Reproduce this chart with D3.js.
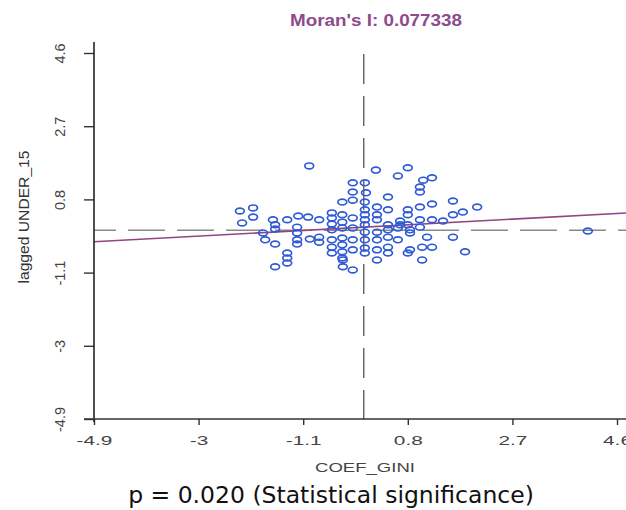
<!DOCTYPE html>
<html>
<head>
<meta charset="utf-8">
<script src="https://cdn.jsdelivr.net/npm/d3@7"></script>
<style>
  body { margin: 0; background: #fff; }
  svg { display: block; }
</style>
</head>
<body>
<svg id="chart"></svg>
<script>
var width = 626;
var height = 510;

var moranI = 0.077338;
var regIntercept = 0.08;
var meanLag = 0;
var meanX = 0;
var xTicks = [-4.9, -3, -1.1, 0.8, 2.7, 4.6];
var yTicks = [-4.9, -3, -1.1, 0.8, 2.7, 4.6];

// standardised COEF_GINI and its spatial lag of UNDER_15
var coefGini = [
  -2.25, -2.01, -2.01, -2.21, -1.83, -1.79, -1.61, -1.65, -1.61, -1.61,
  -1.39, -1.19, -1.21, -1.21, -1.21, -1.21, -1.01, -0.81, -0.98, -0.81,
  -0.81, -1.39, -1.39, -1.39, -1.61, -0.99,
  -0.20, -0.20, 0.02, 0.04, -0.20, -0.39, 0.02,
  -0.38, -0.38, -0.20,
  -0.58, -0.58, -0.58, -0.58, -0.58, -0.58, -0.58,
  -0.39, -0.39, -0.39, -0.39, -0.39, -0.39, -0.39,
  -0.20, -0.20, -0.20, -0.20,
  0.02, 0.02, 0.02, 0.02, 0.02, 0.02, 0.02, 0.02,
  0.24, 0.24, 0.24, 0.24, 0.24, 0.24, 0.24,
  0.44, 0.44, 0.44, 0.44, 0.44, 0.44,
  0.22, 0.62, 0.80, 1.02, 1.02, 1.08, 0.80, 0.80, 1.02, 1.02,
  0.62, 0.80, 1.06, 1.06, 1.15, 1.24, 1.24, 1.62, 1.62, 1.80,
  2.06, 1.44, 1.24, 1.62, 1.84, 1.24, 0.84, 4.07, 0.66, 0.84,
  0.62, 0.44, 0.66, 0.80, 1.02, 0.84
];
var laggedUnder15 = [
  0.50, 0.58, 0.34, 0.19, -0.07, -0.25, -0.36, 0.27, 0.14, 0.03,
  0.27, 0.37, 0.08, -0.07, -0.25, -0.36, 0.34, 0.27, -0.23, -0.18,
  -0.31, -0.59, -0.72, -0.85, -0.95, 1.67,
  1.23, 0.99, 1.23, 0.97, 0.78, 0.73, 0.73,
  -0.77, -0.95, -1.03,
  0.45, 0.32, 0.16, 0.01, -0.25, -0.44, -0.59,
  0.40, 0.21, 0.06, -0.20, -0.38, -0.56, -0.72,
  0.32, 0.06, -0.25, -0.51,
  0.53, 0.40, 0.27, 0.14, -0.05, -0.25, -0.46, -0.59,
  0.60, 0.40, 0.27, -0.05, -0.25, -0.51, -0.77,
  0.86, 0.53, 0.14, -0.18, -0.44, -0.59,
  1.56, 1.41, 1.62, 1.12, 0.99, 1.30, 0.53, 0.40, 0.60, 0.27,
  -0.25, -0.59, -0.77, -0.44, -0.18, 1.36, 0.68, 0.76, 0.40, 0.47,
  0.60, 0.24, 0.27, -0.18, -0.56, -0.44, -0.51, -0.02, 0.14, 0.01,
  0.06, 0.01, 0.24, 0.14, 0.08, -0.07
];

var margin = { left: 94, right: 9, top: 53, bottom: 91 };
var plotTop = 42;
var plainNum = function(d) { return String(d); };

var svg = d3.select('#chart').attr('width', width).attr('height', height);

var x = d3.scaleLinear().domain([-4.9, 4.6]).range([margin.left, width - margin.right]);
var y = d3.scaleLinear().domain([-4.9, 4.6]).range([height - margin.bottom, margin.top]);

svg.append('clipPath').attr('id', 'plot-clip')
  .append('rect')
  .attr('x', margin.left)
  .attr('y', plotTop)
  .attr('width', width - margin.left)
  .attr('height', y(-4.9) - plotTop);

var plot = svg.append('g').attr('clip-path', 'url(#plot-clip)');

// mean lines
plot.append('line')
  .attr('x1', margin.left).attr('x2', width)
  .attr('y1', y(meanLag)).attr('y2', y(meanLag))
  .attr('stroke', '#8a8a8a').attr('stroke-width', 1.5)
  .attr('stroke-dasharray', '37,12').attr('stroke-dashoffset', -34);
plot.append('line')
  .attr('x1', x(meanX)).attr('x2', x(meanX))
  .attr('y1', plotTop + 12).attr('y2', y(-4.9))
  .attr('stroke', '#555').attr('stroke-width', 1.3)
  .attr('stroke-dasharray', '30,12');

// regression line
var xLo = x.invert(margin.left);
var xHi = x.invert(width);
plot.append('line')
  .attr('x1', x(xLo)).attr('y1', y(regIntercept + moranI * xLo))
  .attr('x2', x(xHi)).attr('y2', y(regIntercept + moranI * xHi))
  .attr('stroke', '#934483').attr('stroke-width', 1.6);

// points
plot.selectAll('.pt')
  .data(d3.range(coefGini.length))
  .enter()
  .append('ellipse')
  .classed('pt', true)
  .attr('cx', function(i) { return x(coefGini[i]); })
  .attr('cy', function(i) { return y(laggedUnder15[i]); })
  .attr('rx', 4.4)
  .attr('ry', 2.9)
  .attr('fill', 'none')
  .attr('stroke', '#2f5ad6')
  .attr('stroke-width', 1.7);

// axes
var xAxis = svg.append('g')
  .attr('transform', 'translate(0,' + y(-4.9) + ')')
  .call(d3.axisBottom(x).tickValues(xTicks).tickSize(6).tickSizeOuter(0).tickFormat(plainNum));
xAxis.select('.domain').remove();
xAxis.selectAll('line').attr('stroke', '#333').attr('stroke-width', 1.4);
xAxis.selectAll('text')
  .attr('y', 0).attr('dy', 0)
  .attr('transform', 'translate(0,26) scale(1.6,1)')
  .style('font-family', 'Liberation Sans, Arial, sans-serif')
  .style('font-size', '13px')
  .attr('fill', '#444');

var yAxis = svg.append('g')
  .attr('transform', 'translate(' + margin.left + ',0)')
  .call(d3.axisLeft(y).tickValues(yTicks).tickSize(10).tickSizeOuter(0).tickFormat(plainNum));
yAxis.select('.domain').remove();
yAxis.selectAll('line').attr('stroke', '#333').attr('stroke-width', 1.4);
yAxis.selectAll('text')
  .attr('x', 0).attr('dy', 0).attr('y', -29)
  .attr('transform', 'rotate(-90)')
  .style('text-anchor', 'middle')
  .style('font-family', 'Liberation Sans, Arial, sans-serif')
  .style('font-size', '14.5px')
  .attr('fill', '#444');

svg.append('line')
  .attr('x1', margin.left).attr('x2', margin.left)
  .attr('y1', plotTop).attr('y2', y(-4.9) + 3)
  .attr('stroke', '#222').attr('stroke-width', 1.6);
svg.append('line')
  .attr('x1', margin.left - 10).attr('x2', width)
  .attr('y1', y(-4.9)).attr('y2', y(-4.9))
  .attr('stroke', '#333').attr('stroke-width', 1.5);

// titles
svg.append('text')
  .attr('x', 376).attr('y', 26)
  .attr('text-anchor', 'middle')
  .attr('textLength', 172).attr('lengthAdjust', 'spacingAndGlyphs')
  .style('font-family', 'Liberation Sans, Arial, sans-serif')
  .style('font-weight', 'bold')
  .style('font-size', '17px')
  .attr('fill', '#8d4a8d')
  .text("Moran's I: 0.077338");

svg.append('text')
  .attr('x', 365).attr('y', 472)
  .attr('text-anchor', 'middle')
  .attr('textLength', 100).attr('lengthAdjust', 'spacingAndGlyphs')
  .style('font-family', 'Liberation Sans, Arial, sans-serif')
  .style('font-size', '13px')
  .attr('fill', '#444')
  .text('COEF_GINI');

svg.append('text')
  .attr('transform', 'translate(29,217) rotate(-90)')
  .attr('text-anchor', 'middle')
  .attr('textLength', 133).attr('lengthAdjust', 'spacingAndGlyphs')
  .style('font-family', 'Liberation Sans, Arial, sans-serif')
  .style('font-size', '15.5px')
  .attr('fill', '#333')
  .text('lagged UNDER_15');

svg.append('text')
  .attr('x', 331).attr('y', 503)
  .attr('text-anchor', 'middle')
  .style('font-family', 'DejaVu Sans, sans-serif')
  .style('font-size', '23.5px')
  .attr('fill', '#111')
  .text('p = 0.020 (Statistical significance)');
</script>
</body>
</html>
